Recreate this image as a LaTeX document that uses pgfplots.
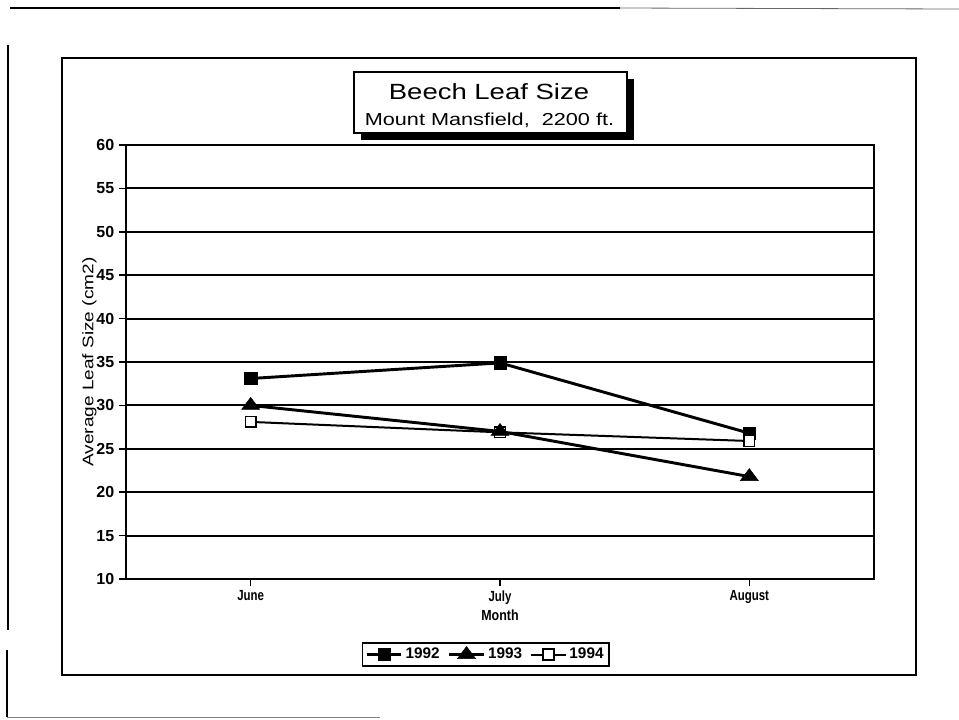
\documentclass[border=0pt]{standalone}
\usepackage{pgfplots}
\pgfplotsset{compat=1.18}
\usepackage{graphicx}
\usepackage{fontspec}
\setmainfont{Liberation Sans}
\begin{document}
\begin{tikzpicture}
\path[use as bounding box] (0,0) rectangle (719.25pt,-539.25pt);
\begin{scope}[x=0.75pt,y=-0.75pt]
% scan page edges
\draw[line width=2.2pt] (10,8) -- (620,8);
\draw[line width=0.6pt, black!60] (620,8) -- (959,9);
\draw[line width=1.8pt] (8,45) -- (8,630);
\draw[line width=1.8pt] (7,650) -- (7,717);
\draw[line width=0.6pt, black!50] (7,717) -- (380,717);
% outer frame
\draw[line width=1.8pt] (62,58) rectangle (916,675);
% title box with shadow
\fill[black] (361,79) rectangle (634,140);
\filldraw[fill=white, draw=black, line width=1.5pt] (354,72) rectangle (627,133);
\node at (489,92) {\fontsize{16.5}{18}\selectfont\scalebox{1.25}[1]{Beech Leaf Size}};
\node at (489.5,120) {\fontsize{13}{15}\selectfont\scalebox{1.25}[1]{Mount Mansfield,\ \ 2200 ft.}};
\end{scope}
\begin{axis}[
  at={(94.5pt,-434.25pt)}, anchor=south west,
  width=561pt, height=325.5pt, scale only axis,
  xmin=-0.5, xmax=2.5, ymin=10, ymax=60,
  xtick={0,1,2},
  xticklabels={\scalebox{0.78}[1]{June},\scalebox{0.78}[1]{July},\scalebox{0.78}[1]{August}},
  ytick={10,15,...,60},
  ymajorgrids,
  grid style={black, line width=1.4pt},
  axis line style={black, line width=1.6pt},
  tick style={black, line width=1.2pt},
  major tick length=5.25pt,
  tick align=outside,
  xtick pos=bottom, ytick pos=left,
  /pgf/number format/assume math mode=true,
  yticklabel style={font=\fontsize{12}{14}\selectfont\bfseries},
  xticklabel style={font=\fontsize{11}{13}\selectfont\bfseries},
  xlabel={\scalebox{0.85}[1]{Month}},
  xlabel style={font=\fontsize{11}{13}\selectfont\bfseries, at={(axis description cs:0.5,-0.083)}, anchor=center},
  ylabel={\scalebox{1.24}[1]{Average Leaf Size (cm2)}},
  ylabel style={font=\fontsize{11.5}{13}\selectfont, at={(axis description cs:-0.049,0.5)}, anchor=center},
  legend columns=3,
  legend style={at={(axis description cs:0.481,-0.174)}, anchor=center,
    draw=black, line width=1.2pt, inner sep=2pt,
    font=\fontsize{11.5}{13}\selectfont\bfseries,
    /tikz/every even column/.append style={column sep=4pt}},
  legend image code/.code={\draw[mark repeat=2,mark phase=2,#1] plot coordinates {(0pt,0pt) (13pt,0pt) (26pt,0pt)};},
  s1992/.style={black, line width=2.2pt, mark=square*, mark size=4.6pt, mark options={solid, fill=black, line width=0.4pt}},
  s1993/.style={black, line width=2.2pt, mark=triangle*, mark size=6pt, mark options={solid, fill=black, line width=0.4pt, xscale=1.3}},
  s1994/.style={black, line width=1.5pt, mark=square*, mark size=4pt, mark options={solid, fill=white, line width=1.2pt}},
]
\addlegendimage{s1992}
\addlegendentry{1992}
\addlegendimage{s1993}
\addlegendentry{1993}
\addlegendimage{s1994}
\addlegendentry{1994}
\addplot[s1992, forget plot] coordinates {(0,33.1) (1,34.9) (2,26.8)};
\addplot[s1994, forget plot] coordinates {(0,28.1) (1,26.9) (2,25.9)};
\addplot[s1993, forget plot] coordinates {(0,30.0) (1,27.0) (2,21.8)};
\end{axis}
\end{tikzpicture}
\end{document}
